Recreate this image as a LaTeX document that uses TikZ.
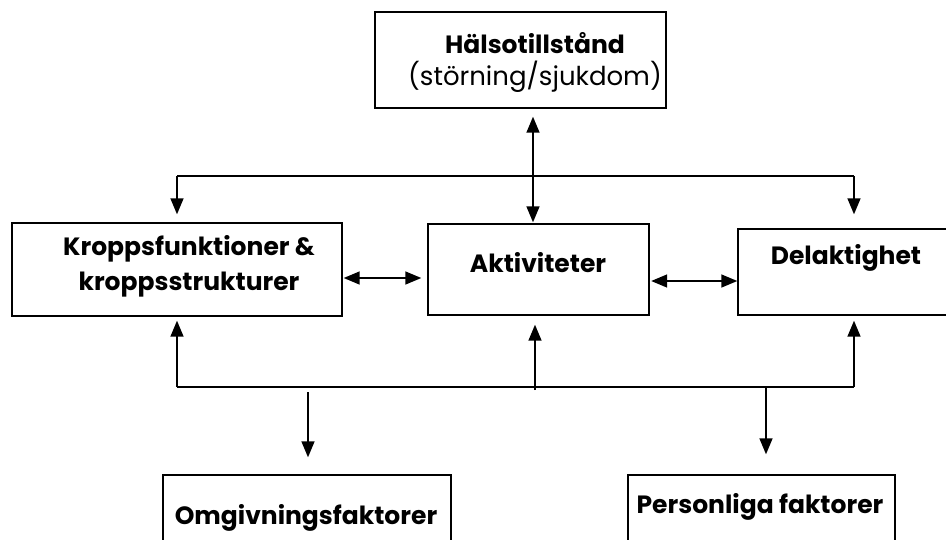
\documentclass[tikz,border=0pt]{standalone}
\usepackage{fontspec}
\setmainfont{Poppins}
\usetikzlibrary{arrows.meta,calc}
\begin{document}
\begin{tikzpicture}[x=1pt,y=-1pt,
  box/.style={draw, line width=1.4pt, inner sep=0pt},
  lbl/.style={font=\bfseries\fontsize{25}{35}\selectfont, align=center, inner sep=0pt},
  sub/.style={font=\fontsize{26}{30}\selectfont, inner sep=0pt},
  conn/.style={line width=1.5pt},
  tip/.style={-{Triangle[width=13pt,length=16pt]}},
  dbl/.style={{Triangle[width=13pt,length=16pt]}-{Triangle[width=13pt,length=16pt]}}]
\useasboundingbox (0,0) rectangle (946,539);
\clip (0,0) rectangle (946,539);
\fill[white] (0,0) rectangle (946,539);
% boxes
\node[box, minimum width=291pt, minimum height=96pt] (top) at (520.5,60) {};
\node[box, minimum width=330pt, minimum height=93pt] (kropp) at (177,269.5) {};
\node[box, minimum width=221pt, minimum height=91pt] (akt) at (538.5,269.5) {};
\node[box, minimum width=222pt, minimum height=86pt] (del) at (849,272) {};
\node[box, minimum width=288pt, minimum height=85pt] (omg) at (307,517.5) {};
\node[box, minimum width=267pt, minimum height=85pt] (pers) at (761.5,517.5) {};
% texts
\node[lbl] (topt) at (535,43) {Hälsotillstånd};
\node[sub] (tops) at (535,77) {(störning/sjukdom)};
\node[lbl] (kroppt) at (189,266) {Kroppsfunktioner \&\\kroppsstrukturer};
\node[lbl] (aktt) at (538,263) {Aktiviteter};
\node[lbl] (delt) at (846,258) {Delaktighet};
\node[lbl] (omgt) at (306,518) {Omgivningsfaktorer};
\node[lbl] (perst) at (760,507) {Personliga faktorer};
% connectors
\coordinate (tl) at (177,176);
\coordinate (tr) at (854,176);
\coordinate (bl) at (177,387);
\coordinate (br) at (854,387);
\coordinate (bm) at (535,390);
\coordinate (bo) at (308,392);
\coordinate (bp) at (766,387);
\draw[conn, dbl] ($(top.south)+(12.5,8)$) -- ($(akt.north)+(-5.5,-1)$);
\draw[conn] (tl) -- (tr);
\draw[conn, tip] (tl) -- ($(kropp.north)+(0,-8)$);
\draw[conn, tip] (tr) -- ($(del.north)+(5,-14)$);
\draw[conn, dbl] ($(kropp.east)+(1,8.5)$) -- ($(akt.west)+(-6,8.5)$);
\draw[conn, dbl] ($(akt.east)+(1.5,11.5)$) -- ($(del.west)+(0,9)$);
\draw[conn] (bl) -- (br);
\draw[conn, tip] (bl) -- ($(kropp.south)+(0,4)$);
\draw[conn, tip] (bm) -- ($(akt.south)+(-3.5,9)$);
\draw[conn, tip] (br) -- ($(del.south)+(5,5)$);
\draw[conn, tip] (bo) -- ($(omg.north)+(1,-17)$);
\draw[conn, tip] (bp) -- ($(pers.north)+(4.5,-20)$);
\end{tikzpicture}
\end{document}
